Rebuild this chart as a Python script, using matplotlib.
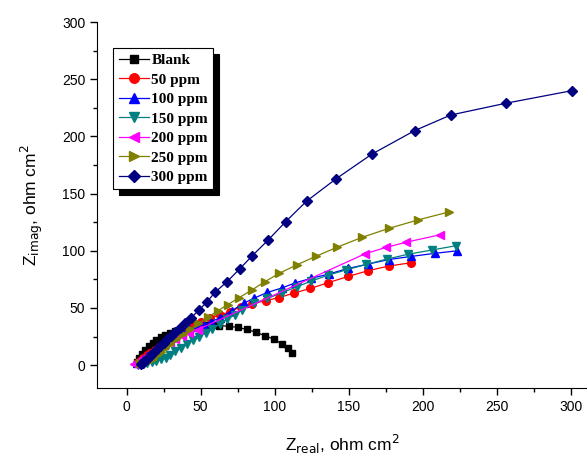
import matplotlib
matplotlib.use("Agg")
import matplotlib.pyplot as plt
from matplotlib.ticker import MultipleLocator

# Nyquist data (Z_real, Z_imag in ohm cm2)
blank_x = [7, 8.5, 10.5, 12.5, 15, 17.5, 20, 23, 26, 29.5, 33, 37, 41, 45, 49.5,
           54, 58, 62.3, 69, 75, 81.4, 87.7, 93.7, 99.8, 105, 108.8, 111.7]
blank_y = [3, 6, 9.5, 13, 16.5, 19.5, 22, 24.5, 26.5, 28.5, 30, 31.5, 32.8, 33.8, 34.5,
           35, 35, 34.5, 34, 33, 31.2, 28.6, 25.6, 22.5, 18.4, 14.6, 10.2]

p50_x = [7, 9, 11, 13.5, 16, 19, 22, 25.5, 29, 33, 38.5, 44.3, 50, 56.5, 63, 70, 77,
         85, 94, 103, 113, 124, 136, 149.5, 163, 177, 192]
p50_y = [2, 4, 6, 8.5, 10.5, 13, 15.5, 18.5, 21.5, 25, 29.5, 34, 37.5, 41, 44, 46.6, 51,
         53.5, 56.5, 59, 63, 67, 72, 77.5, 82.5, 86.6, 89.5]

p100_x = [7, 9, 11, 13.5, 16, 19, 22, 25.5, 29, 33, 37.5, 42, 47, 52, 57, 63.4, 71, 79,
          86, 95, 105, 114, 124.5, 136.5, 149.5, 163, 177, 192, 208, 223.5]
p100_y = [1.5, 3.5, 5.5, 8, 10, 12.5, 15, 18, 21, 24.5, 28, 31.5, 33, 35, 38, 41.5, 47.5, 54,
          58.5, 63.5, 67.5, 72, 75.8, 79.6, 84.5, 88.3, 92.3, 95, 97.7, 100]

p150_x = [8, 11, 14, 17, 20, 23, 26.3, 29.5, 33, 37, 41, 45, 49, 53.5, 58, 63, 68, 73,
          78, 86, 95, 105, 115, 124.8, 136.3, 148.5, 161.7, 175.8, 190.4, 206, 222.6]
p150_y = [0.5, 1, 1.5, 2.5, 3.5, 5, 6.5, 9, 12, 15, 18.5, 22, 25, 28.5, 32, 36, 40, 44,
          48.5, 53.9, 58.3, 63.3, 68.5, 73.5, 78.7, 83.3, 88, 92.7, 97, 100.6, 104.4]

p200_x = [5, 7, 9, 11, 13.5, 16, 19, 22, 25.5, 29, 33, 37.5, 42, 48, 161, 175.4, 189, 211.8]
p200_y = [1, 2.5, 4, 6, 8, 10, 12.5, 15, 17.5, 20, 22.5, 25.5, 28, 31, 97.3, 103, 107.5, 114]

p250_x = [9, 12, 15, 18, 20.5, 23, 26, 29.5, 33.5, 38, 43, 48.5, 55, 61.5, 68.5, 76,
          84.5, 93.5, 103, 115, 128, 142, 159, 177.5, 197, 218]
p250_y = [1.5, 2, 3.5, 5.5, 8.5, 11.5, 15, 18.5, 22.5, 27, 31.5, 36.5, 42, 47.5, 53, 59,
          65.6, 73, 80.2, 87.7, 95.2, 103, 111.7, 119.7, 127, 134]

p300_x = [10, 11, 12, 13.5, 15, 16.5, 18.5, 20.5, 22.5, 25, 27.5, 30, 33, 36, 39.5, 43.2,
          48.8, 54.4, 60, 67.5, 76.5, 85, 95.5, 107.5, 121.6, 141.6, 165.7, 194.5, 219,
          256.3, 301]
p300_y = [1, 2, 3.5, 5, 7, 9, 11.5, 14, 16.5, 19.5, 22.5, 25.5, 29, 32.5, 36.5, 41,
          48, 55.5, 64, 72.5, 84.3, 95.8, 109.2, 125.5, 143.4, 163, 184.5, 205, 218.7,
          229, 240]

series = [
    ("Blank", blank_x, blank_y, "black", "s", 4.5),
    ("50 ppm", p50_x, p50_y, "#ff0000", "o", 5.5),
    ("100 ppm", p100_x, p100_y, "#0000ff", "^", 6),
    ("150 ppm", p150_x, p150_y, "#008080", "v", 6),
    ("200 ppm", p200_x, p200_y, "#ff00ff", "<", 6),
    ("250 ppm", p250_x, p250_y, "#808000", ">", 6),
    ("300 ppm", p300_x, p300_y, "#000080", "D", 5),
]

plt.rcParams["font.family"] = ["Liberation Sans", "DejaVu Sans"]

fig = plt.figure(figsize=(5.87, 4.59), dpi=100)
ax = fig.add_axes([97 / 587, 1 - 388 / 459, 490 / 587, 366 / 459])

for label, xs, ys, color, marker, ms in series:
    ax.plot(xs, ys, color=color, marker=marker, markersize=ms, linewidth=0.9,
            markeredgecolor=color, label=label)

ax.set_xlim(-20, 311)
ax.set_ylim(-20, 300)
ax.xaxis.set_minor_locator(MultipleLocator(25))
ax.yaxis.set_minor_locator(MultipleLocator(25))
ax.set_xticks(range(0, 301, 50))
ax.set_yticks(range(0, 301, 50))
ax.spines["top"].set_visible(False)
ax.spines["right"].set_visible(False)
ax.tick_params(which="major", direction="out", length=5, width=1, labelsize=10)
ax.tick_params(which="minor", direction="out", length=3, width=1)

ax.set_xlabel(r"Z$_{\mathrm{real}}$, ohm cm$^{2}$", fontsize=12.5, labelpad=14)
ax.set_ylabel(r"Z$_{\mathrm{imag}}$, ohm cm$^{2}$", fontsize=12.5, labelpad=12)

leg = ax.legend(loc="upper left", bbox_to_anchor=(0.033, 0.929), borderaxespad=0,
                fancybox=False, framealpha=1, edgecolor="black", numpoints=1,
                handlelength=2.0, handletextpad=0.15, labelspacing=0.38,
                borderpad=0.35, markerscale=1.25,
                prop={"family": "Liberation Serif", "weight": "bold", "size": 11},
                shadow={"ox": 4, "oy": -4, "facecolor": "k", "edgecolor": "k", "alpha": 1})
leg.get_frame().set_linewidth(0.8)

fig.savefig("out.png", dpi=100)
